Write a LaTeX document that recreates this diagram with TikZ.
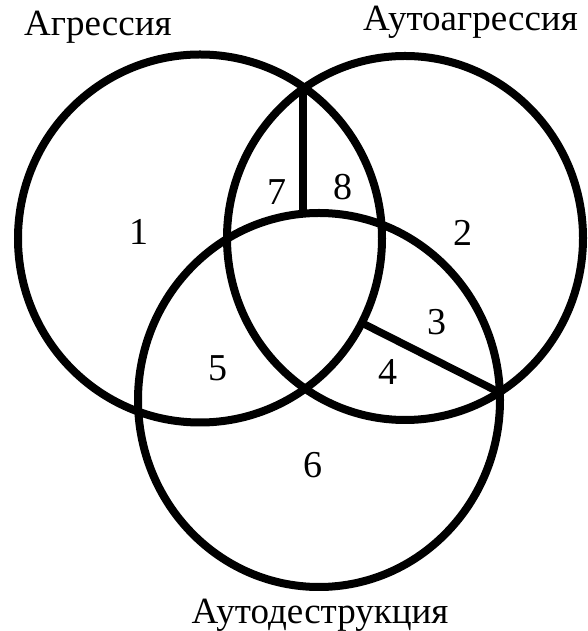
\documentclass[tikz,border=0pt]{standalone}
\usepackage{fontspec}
\setmainfont{Liberation Serif}
\begin{document}
\begin{tikzpicture}[x=1pt,y=1pt,
  ring/.style={line width=8pt},
  divider/.style={line width=7.5pt},
  num/.style={font=\fontsize{38}{42}\selectfont, inner sep=0pt, anchor=center},
  ttl/.style={font=\fontsize{37}{42}\selectfont, inner sep=0pt}]
\useasboundingbox (0,0) rectangle (587,631);
% circles
\draw[ring] (200,392.5) ellipse [x radius=182, y radius=184];
\draw[ring] (405,393) ellipse [x radius=178, y radius=182];
\draw[ring] (319,231) ellipse [x radius=181, y radius=187];
% dividers
\coordinate (vtop) at (303,544);
\coordinate (vbot) at (303,417);
\coordinate (sA) at (362,308);
\coordinate (sB) at (499.5,238.5);
\draw[divider] (vtop) -- (vbot);
\draw[divider] (sA) -- (sB);
% titles
\node[ttl, anchor=base west] (tA) at (24,595.5) {Агрессия};
\node[ttl, anchor=base east] (tB) at (578,600) {Аутоагрессия};
\node[ttl, anchor=base] (tC) at (320,8) {Аутодеструкция};
% numbers
\node[num] (n1) at (139,399) {1};
\node[num] (n2) at (463,398) {2};
\node[num] (n3) at (437,309) {3};
\node[num] (n4) at (388,259) {4};
\node[num] (n5) at (218,263) {5};
\node[num] (n6) at (313,166) {6};
\node[num] (n7) at (277,439) {7};
\node[num] (n8) at (343,444) {8};
\end{tikzpicture}
\end{document}
